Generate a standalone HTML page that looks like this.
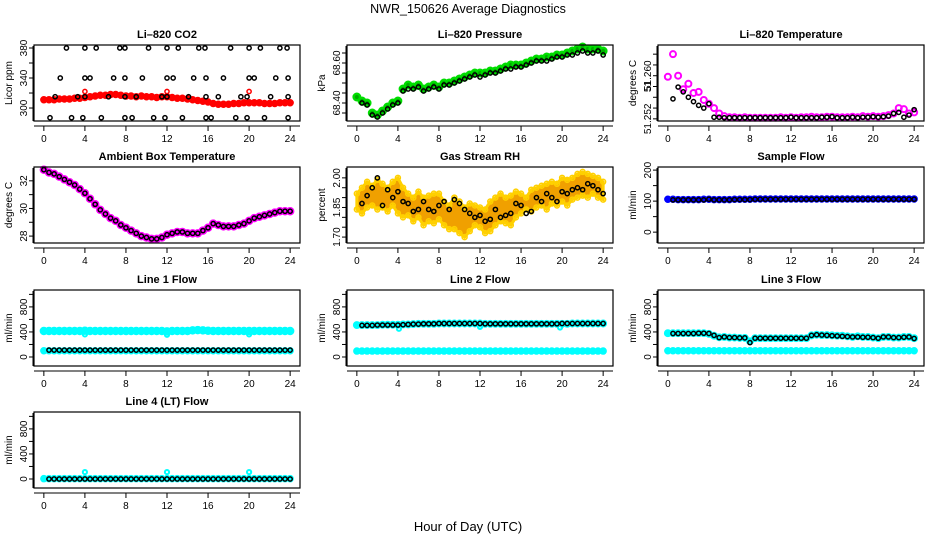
<!DOCTYPE html>
<html><head><meta charset="utf-8">
<style>
body{margin:0;background:#fff;}
svg text{font-family:"Liberation Sans",sans-serif;}
</style></head>
<body>
<svg id="chart" width="936" height="540" viewBox="0 0 936 540" xmlns="http://www.w3.org/2000/svg">
<rect width="936" height="540" fill="#fff"/>
<text x="468" y="13" text-anchor="middle" font-size="12.5">NWR_150626  Average Diagnostics</text>
<text x="468" y="531" text-anchor="middle" font-size="13">Hour of Day (UTC)</text>
</svg>
<script>
const HOURS=[0,0.5,1,1.5,2,2.5,3,3.5,4,4.5,5,5.5,6,6.5,7,7.5,8,8.5,9,9.5,10,10.5,11,11.5,12,12.5,13,13.5,14,14.5,15,15.5,16,16.5,17,17.5,18,18.5,19,19.5,20,20.5,21,21.5,22,22.5,23,23.5,24];
const XTICKS=[0,4,8,12,16,20,24];

const co2Red=[311,311,311,312,312,312,313,313,314,315,316,317,317,318,318,317,316,316,315,316,315,315,314,315,315,314,313,313,312,311,310,309,308,306,305,305,305,306,306,307,307,307,307,306,306,306,307,307,307];
const co2BlackHours=[2.2,4,5.1,7.4,7.9,10.2,12,13.1,15.1,15.7,18.2,20,21.1,23,23.7,1.6,4,4.5,6.8,7.9,9.6,12,12.6,14.6,15.8,17.5,20,20.5,22.6,23.8,1.1,3.3,4,6.3,7.9,9,11.5,12,14.1,15.8,17,19.2,19.8,22.1,23.8,0.6,2.7,3.8,5.6,7.9,8.6,10.7,11.8,13.5,15.8,16.3,18.7,19.8,21.5,23.8];
const co2BlackVals=[380,380,380,380,380,380,380,380,380,380,380,380,380,380,380,340,340,340,340,340,340,340,340,340,340,340,340,340,340,340,315,315,315,315,315,315,315,315,315,315,315,315,315,315,315,287,287,287,287,287,287,287,287,287,287,287,287,287,287,287];
const co2RedExtraHours=[4,12,20];
const co2RedExtraVals=[322,322,322];

const presGreen=[68.43,68.41,68.40,68.35,68.34,68.36,68.38,68.40,68.41,68.47,68.49,68.48,68.49,68.47,68.48,68.49,68.48,68.50,68.50,68.51,68.52,68.53,68.54,68.55,68.55,68.55,68.56,68.56,68.57,68.58,68.59,68.59,68.59,68.60,68.61,68.62,68.62,68.63,68.63,68.64,68.64,68.65,68.66,68.67,68.68,68.67,68.67,68.67,68.66];
const presBlack=[null,68.40,68.39,68.34,68.33,68.35,68.37,68.39,68.40,68.46,68.47,68.47,68.48,68.46,68.47,68.48,68.47,68.49,68.49,68.50,68.51,68.52,68.53,68.54,68.53,68.54,68.55,68.55,68.56,68.57,68.57,68.58,68.58,68.59,68.60,68.61,68.61,68.61,68.62,68.63,68.63,68.64,68.64,68.65,68.66,68.65,68.65,68.66,68.64];

const tempMag=[51.2598,51.2640,51.2600,51.2575,51.2585,51.2568,51.2570,51.2555,51.2548,51.2540,51.2530,51.2525,51.2523,51.2523,51.2522,51.2523,51.2522,51.2522,51.2522,51.2522,51.2522,51.2522,51.2523,51.2522,51.2523,51.2522,51.2523,51.2523,51.2524,51.2523,51.2523,51.2524,51.2524,51.2523,51.2523,51.2523,51.2524,51.2523,51.2525,51.2524,51.2525,51.2524,51.2525,51.2527,51.2530,51.2540,51.2538,51.2530,51.2532];
const tempBlack=[null,51.2557,51.2579,51.2570,51.2560,51.2552,51.2545,51.2540,51.2548,51.2523,51.2523,51.2522,51.2522,51.2522,51.2522,51.2522,51.2522,51.2522,51.2522,51.2522,51.2522,51.2522,51.2522,51.2522,51.2523,51.2522,51.2522,51.2522,51.2522,51.2522,51.2523,51.2523,51.2524,51.2522,51.2522,51.2522,51.2523,51.2522,51.2523,51.2523,51.2524,51.2523,51.2524,51.2525,51.2530,51.2532,51.2523,51.2527,51.2537];

const ambient=[32.8,32.6,32.5,32.3,32.1,31.9,31.7,31.4,31.1,30.7,30.3,29.9,29.6,29.3,29.1,28.8,28.6,28.4,28.2,28.0,27.9,27.8,27.8,27.9,28.1,28.2,28.3,28.3,28.2,28.2,28.2,28.4,28.6,28.9,28.8,28.7,28.7,28.7,28.8,28.9,29.1,29.3,29.4,29.5,29.6,29.7,29.8,29.8,29.8];

const rhUpper=[1.92,1.95,1.98,1.96,1.99,1.97,1.95,1.98,2.00,1.95,1.92,1.90,1.93,1.90,1.91,1.92,1.92,1.88,1.86,1.90,1.88,1.85,1.87,1.86,1.85,1.84,1.88,1.90,1.92,1.90,1.91,1.93,1.92,1.90,1.94,1.95,1.96,1.97,1.98,1.97,2.00,1.99,2.00,2.02,2.03,2.02,2.01,2.00,1.98];
const rhLower=[1.84,1.82,1.85,1.86,1.84,1.85,1.83,1.86,1.82,1.80,1.81,1.78,1.80,1.76,1.78,1.77,1.79,1.76,1.74,1.74,1.72,1.70,1.73,1.76,1.75,1.72,1.73,1.76,1.78,1.77,1.76,1.80,1.82,1.84,1.83,1.85,1.86,1.84,1.87,1.86,1.88,1.86,1.89,1.90,1.91,1.90,1.92,1.90,1.89];
const rhBlack=[null,1.87,1.91,1.95,2.00,1.86,1.94,1.90,1.93,1.88,1.87,1.83,1.84,1.88,1.84,1.83,1.86,1.88,1.84,1.89,1.87,1.84,1.82,1.80,1.81,1.78,1.79,1.84,1.80,1.81,1.82,1.87,1.86,1.82,1.83,1.90,1.88,1.92,1.90,1.88,1.93,1.92,1.94,1.95,1.94,1.97,1.96,1.94,1.92];

const sampleBlue=[106,106,105,105,105,105,105,106,106,105,105,105,105,106,106,106,106,107,107,107,107,107,107,107,107,107,107,107,107,107,107,107,107,107,107,107,107,107,107,107,107,107,107,107,107,107,107,107,107];
const sampleBlack=[null,104,104,104,104,104,104,104,106,104,104,104,104,105,105,105,105,106,106,106,106,106,106,106,106,106,106,106,106,106,106,106,106,106,106,106,106,106,106,106,106,106,106,106,106,106,106,106,106];

const line1CyanHigh=[415,415,415,415,415,415,415,415,420,415,415,415,415,415,415,415,415,415,415,415,415,415,415,415,410,415,415,415,415,425,430,425,420,415,415,415,415,415,415,415,415,415,415,415,415,415,415,415,415];
const line1CyanLow=[100,100,100,100,100,100,100,100,100,100,100,100,100,100,100,100,100,100,100,100,100,100,100,100,100,100,100,100,100,100,100,100,100,100,100,100,100,100,100,100,100,100,100,100,100,100,100,100,100];
const line1Black=[null,110,110,110,110,110,110,110,110,110,110,110,110,110,110,110,110,110,110,110,110,110,110,110,110,110,110,110,110,110,110,110,110,110,110,110,110,110,110,110,110,110,110,110,110,110,110,110,110];
const line1DipHours=[4,12,20];
const line1DipVals=[360,355,360];

const line2CyanHigh=[510,510,510,510,510,515,515,515,515,520,520,525,530,530,530,530,535,535,535,535,535,535,535,535,535,530,530,530,530,530,530,530,530,530,530,530,530,530,530,530,530,530,535,535,535,535,535,535,535];
const line2Black=[null,505,505,505,510,510,510,510,510,515,520,525,525,530,530,530,535,535,535,535,535,535,535,535,535,530,530,530,530,530,530,530,530,530,530,530,530,530,530,530,535,535,535,535,535,535,535,535,535];
const line2CyanLow=[95,95,95,95,95,95,95,95,95,95,95,95,95,95,95,95,95,95,95,95,95,95,95,95,95,95,95,95,95,95,95,95,95,95,95,95,95,95,95,95,95,95,95,95,95,95,95,95,95];
const line2DipHours=[4.1,12,19.8];
const line2DipVals=[450,480,470];

const line3Cyan=[380,380,380,380,380,380,380,380,370,340,315,320,310,310,305,305,250,300,300,300,300,300,300,300,300,300,300,300,345,355,350,350,345,340,340,330,320,330,320,320,310,300,320,320,310,310,320,320,300];
const line3Black=[null,375,375,375,375,375,380,380,375,345,310,320,310,310,305,305,230,300,300,300,300,300,300,300,300,300,300,300,345,355,350,345,340,335,330,325,320,320,315,315,310,300,320,320,310,310,315,320,295];
const line3CyanLow=[100,100,100,100,100,100,100,100,100,100,100,100,100,100,100,100,100,100,100,100,100,100,100,100,100,100,100,100,100,100,100,100,100,100,100,100,100,100,100,100,100,100,100,100,100,100,100,100,100];

const line4Cyan=[5,5,5,5,5,5,5,5,5,5,5,5,5,5,5,5,5,5,5,5,5,5,5,5,5,5,5,5,5,5,5,5,5,5,5,5,5,5,5,5,5,5,5,5,5,5,5,5,5];
const line4Black=[null,0,0,0,0,0,0,0,0,0,0,0,0,0,0,0,0,0,0,0,0,0,0,0,0,0,0,0,0,0,0,0,0,0,0,0,0,0,0,0,0,0,0,0,0,0,0,0,0];
const line4SpikeHours=[4,12,20];
const line4SpikeVals=[110,110,110];

const FLOW_TICKS=[0,200,400,600,800,1000];
const FLOW_LABELS=["0","","400","","800",""];

const NS="http://www.w3.org/2000/svg";
const svg=document.getElementById('chart');
function el(tag,attrs,parent){const e=document.createElementNS(NS,tag);for(const k in attrs)e.setAttribute(k,attrs[k]);(parent||svg).appendChild(e);return e;}

function panel(o){
  const g=el('g',{});
  
  
  const L=o.left,T=o.top,W=266,H=76;
  const xs=v=>L+(v+0.96)/25.92*W;
  const ys=v=>T+H-(v-o.ylim[0])/(o.ylim[1]-o.ylim[0])*H;
  const t=el('text',{x:L+W/2,y:T-7,'text-anchor':'middle','font-size':11,'font-weight':'bold'},g);
  t.textContent=o.title;
  
  
  const data=el('g',{},g);
  
  
  (o.series||[]).forEach(s=>{
    const hx=s.hours||HOURS;
    if(s.band){
      let pts=[];
      for(let i=0;i<hx.length;i++)pts.push(xs(hx[i])+','+ys(s.band[0][i]));
      for(let i=hx.length-1;i>=0;i--)pts.push(xs(hx[i])+','+ys(s.band[1][i]));
      const p=el('polygon',{points:pts.join(' '),fill:s.fill,stroke:s.color,'stroke-width':3},data);
      
      
      return;
    }
    for(let i=0;i<hx.length&&i<s.vals.length;i++){
      if(s.vals[i]==null)continue;
      const c=el('circle',{cx:xs(hx[i]),cy:ys(s.vals[i]),r:s.r||2.1,fill:s.fill||'none',stroke:s.color,'stroke-width':s.sw||1.5},data);
      
      
    }
  });
  const b=el('rect',{x:L,y:T,width:W,height:H,fill:'none',stroke:'#000','stroke-width':1.2},g);
  
  
  const ay=T+H+5;
  el('line',{x1:L,x2:L+W,y1:ay,y2:ay,stroke:'#000'},g);
  XTICKS.forEach(v=>{
    el('line',{x1:xs(v),x2:xs(v),y1:ay,y2:ay+5,stroke:'#000'},g);
    const tx=el('text',{x:xs(v),y:ay+16,'text-anchor':'middle','font-size':10},g);
    tx.textContent=v;
    
    
  });
  const ax=L-1;
  el('line',{x1:ax,x2:ax,y1:T+1,y2:T+H,stroke:'#000'},g);
  o.yticks.forEach((v,i)=>{
    const y=ys(v);
    el('line',{x1:ax-4,x2:ax,y1:y,y2:y,stroke:'#000'},g);
    const lab=o.ylabels[i];
    if(lab){
      const tx=el('text',{x:0,y:0,transform:`translate(${ax-6},${y}) rotate(-90)`,'text-anchor':'middle','font-size':10},g);
      tx.textContent=lab;
      
      
    }
  });
  const yt=el('text',{x:0,y:0,transform:`translate(${L-22},${T+H/2}) rotate(-90)`,'text-anchor':'middle','font-size':10},g);
  yt.textContent=o.ylab;
  
  
}

const C=[34,347,658], R=[45,167,290,412];
panel({name:'co2-panel',title:'Li\u2013820 CO2',left:C[0],top:R[0],ylim:[282.7,384],ylab:'Licor ppm',
  yticks:[300,320,340,360,380],ylabels:['300','','340','','380'],
  series:[{vals:co2Red,color:'#ff0000',fill:'#ff0000',r:3},{hours:co2RedExtraHours,vals:co2RedExtraVals,color:'#ff0000'},{hours:co2BlackHours,vals:co2BlackVals,color:'#000'}]});
panel({name:'pressure-panel',title:'Li\u2013820 Pressure',left:C[1],top:R[0],ylim:[68.31,68.69],ylab:'kPa',
  yticks:[68.35,68.40,68.45,68.50,68.55,68.60,68.65],ylabels:['','68.40','','','','68.60',''],
  series:[{vals:presGreen,color:'#00dd00',fill:'#00aa00',r:3.2,sw:2.5},{vals:presBlack,color:'#000'}]});
panel({name:'temperature-panel',title:'Li\u2013820 Temperature',left:C[2],top:R[0],ylim:[51.2516,51.2657],ylab:'degrees C',
  yticks:[51.252,51.254,51.256,51.258,51.260,51.262,51.264],ylabels:['51.252','','','51','51.260','',''],
  series:[{vals:tempMag,color:'#ff00ff',r:3,sw:2},{vals:tempBlack,color:'#000'}]});
panel({name:'ambient-box-temp-panel',title:'Ambient Box Temperature',left:C[0],top:R[1],ylim:[27.5,33.0],ylab:'degrees C',
  yticks:[28,29,30,31,32],ylabels:['28','','30','','32'],
  series:[{vals:ambient,color:'#ff00ff',fill:'#ff00ff',r:3.5},{vals:ambient,color:'#000'}]});
panel({name:'gas-stream-rh-panel',title:'Gas Stream RH',left:C[1],top:R[1],ylim:[1.67,2.055],ylab:'percent',
  yticks:[1.70,1.75,1.80,1.85,1.90,1.95,2.00],ylabels:['1.70','','','1.85','','','2.00'],
  series:[{band:[rhUpper,rhLower],color:'#ffd000',fill:'#f0a000'},{vals:rhUpper,color:'#ffd000',r:2.5},{vals:rhLower,color:'#ffd000',r:2.5},{vals:rhBlack,color:'#000'}]});
panel({name:'sample-flow-panel',title:'Sample Flow',left:C[2],top:R[1],ylim:[-35,210],ylab:'ml/min',
  yticks:[0,50,100,150,200],ylabels:['0','','100','','200'],
  series:[{vals:sampleBlue,color:'#0000ff',fill:'#0000ff',r:3},{vals:sampleBlack,color:'#000'}]});
panel({name:'line1-flow-panel',title:'Line 1 Flow',left:C[0],top:R[2],ylim:[-144,1070],ylab:'ml/min',yticks:FLOW_TICKS,ylabels:FLOW_LABELS,
  series:[{vals:line1CyanHigh,color:'#00ffff',fill:'#00ffff',r:3.5},{vals:line1CyanLow,color:'#00ffff',fill:'#00ffff',r:3},{hours:line1DipHours,vals:line1DipVals,color:'#00ffff',sw:2},{vals:line1Black,color:'#000'}]});
panel({name:'line2-flow-panel',title:'Line 2 Flow',left:C[1],top:R[2],ylim:[-144,1070],ylab:'ml/min',yticks:FLOW_TICKS,ylabels:FLOW_LABELS,
  series:[{vals:line2CyanHigh,color:'#00ffff',fill:'#00ffff',r:3.2},{vals:line2CyanLow,color:'#00ffff',fill:'#00ffff',r:3},{hours:line2DipHours,vals:line2DipVals,color:'#00ffff',sw:2},{vals:line2Black,color:'#000'}]});
panel({name:'line3-flow-panel',title:'Line 3 Flow',left:C[2],top:R[2],ylim:[-144,1070],ylab:'ml/min',yticks:FLOW_TICKS,ylabels:FLOW_LABELS,
  series:[{vals:line3Cyan,color:'#00ffff',fill:'#00ffff',r:3.2},{vals:line3CyanLow,color:'#00ffff',fill:'#00ffff',r:3},{vals:line3Black,color:'#000'}]});
panel({name:'line4-flow-panel',title:'Line 4 (LT) Flow',left:C[0],top:R[3],ylim:[-144,1070],ylab:'ml/min',yticks:FLOW_TICKS,ylabels:FLOW_LABELS,
  series:[{vals:line4Cyan,color:'#00ffff',fill:'#00ffff',r:3},{hours:line4SpikeHours,vals:line4SpikeVals,color:'#00ffff',sw:2},{vals:line4Black,color:'#000'}]});
</script>
</body></html>
